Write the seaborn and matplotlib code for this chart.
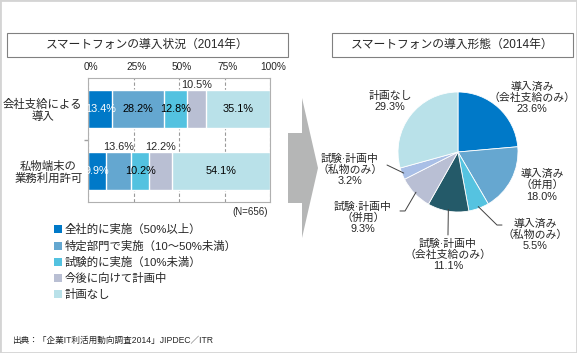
import numpy as np
import pandas as pd
import seaborn as sns
import matplotlib.pyplot as plt
from matplotlib.patches import Rectangle, Polygon, Patch
from matplotlib.transforms import ScaledTranslation

# ---- data ----
bar_cats = ["会社支給による\n導入", "私物端末の\n業務利用許可"]
bar_series = ["全社的に実施（50%以上）", "特定部門で実施（10～50%未満）",
              "試験的に実施（10%未満）", "今後に向けて計画中", "計画なし"]
row_company = [13.4, 28.2, 12.8, 10.5, 35.1]
row_private = [9.9, 13.6, 10.2, 12.2, 54.1]
bar_colors = ["#0079c8", "#64a7d0", "#53c2e0", "#b9bfd3", "#b9e1e9"]

pie_labels = ["導入済み\n（会社支給のみ）", "導入済み\n（併用）", "導入済み\n（私物のみ）",
              "試験·計画中\n（会社支給のみ）", "試験·計画中\n（併用）",
              "試験·計画中\n（私物のみ）", "計画なし"]
pie_values = [23.6, 18.0, 5.5, 11.1, 9.3, 3.2, 29.3]
pie_colors = ["#0079c8", "#66a7d0", "#55c3e0", "#245a69", "#b9bfd4", "#a9bfe6", "#b9e1e9"]

W, H = 577, 353

sns.set_theme(style="white")
plt.rcParams['font.family'] = ['Liberation Sans', 'Noto Sans CJK JP']


def f(px, py):
    return (px / W, 1 - py / H)


fig = plt.figure(figsize=(W / 100, H / 100), dpi=100)

# outer frame
fig.add_artist(Rectangle((0, 0), 1, 1, fill=False, edgecolor="#d4d4d4", lw=2,
                         transform=fig.transFigure))

# title boxes
for (x0, x1, title) in [(7, 288, "スマートフォンの導入状況（2014年）"),
                        (332, 573, "スマートフォンの導入形態（2014年）")]:
    fig.add_artist(Rectangle(f(x0, 57), (x1 - x0) / W, 24 / H, fill=False,
                             edgecolor="#808080", lw=0.8, transform=fig.transFigure))
    fig.text(*f((x0 + x1) / 2, 45), title, ha="center", va="center", fontsize=8.5)

# ---- stacked bar chart ----
ax = fig.add_axes([88 / W, 1 - 202 / H, 182 / W, 124 / H])
data = np.array([row_company, row_private])
cum = np.cumsum(data, axis=1)
for i in range(len(bar_series) - 1, -1, -1):
    df = pd.DataFrame({"cat": bar_cats, "val": cum[:, i]})
    sns.barplot(data=df, x="val", y="cat", orient="h", color=bar_colors[i],
                saturation=1, width=0.613, ax=ax, zorder=2)

ax.set_xlim(0, 100)
ax.set_ylim(1.5, -0.5)
ax.set_xlabel("")
ax.set_ylabel("")
ax.xaxis.tick_top()
ax.set_xticks([0, 25, 50, 75, 100])
ax.set_xticklabels([f"{v}%" for v in [0, 25, 50, 75, 100]], fontsize=7.3)
ax.tick_params(axis="x", length=0, pad=4)
shift = ScaledTranslation(3 / 100, 0, fig.dpi_scale_trans)
for lab in ax.get_xticklabels():
    lab.set_transform(lab.get_transform() + shift)
ax.set_yticks([0, 1])
ax.set_yticklabels(bar_cats, fontsize=8.2, multialignment="center", linespacing=1.1)
ax.tick_params(axis="y", length=0, pad=4)
ax.set_yticks([0.5], minor=True)
ax.tick_params(axis="y", which="minor", length=3, color="#a0a0a0", left=True)
ax.set_axisbelow(True)
ax.xaxis.grid(True, linestyle=(0, (3, 2)), color="#9a9a9a", lw=0.8)
ax.yaxis.grid(False)
for s in ax.spines.values():
    s.set_color("#b0b0b0")
    s.set_linewidth(0.8)

outside = {0: [3], 1: [1, 3]}
for r in range(2):
    left = 0
    for i, v in enumerate(data[r]):
        xc = left + v / 2
        if i in outside[r]:
            ax.text(xc, r - 0.39, f"{v}%", ha="center", va="center", fontsize=7.8)
        else:
            ax.text(xc, r, f"{v}%", ha="center", va="center", fontsize=7.8,
                    color="white" if i == 0 else "black")
        left += v

fig.text(*f(268, 212), "(N=656)", ha="right", va="center", fontsize=7)

handles = [Patch(facecolor=c, edgecolor="none") for c in bar_colors]
fig.legend(handles, bar_series, loc="upper left", bbox_to_anchor=f(54, 224),
           frameon=False, fontsize=8.2, borderpad=0, borderaxespad=0,
           handlelength=0.72, handleheight=0.72, handletextpad=0.2,
           labelspacing=0.45)

# ---- arrow ----
fig.add_artist(Polygon([f(288, 133), f(302, 133), f(302, 98), f(318, 168),
                        f(302, 238), f(302, 203), f(288, 203)],
                       closed=True, facecolor="#b5b6b6", edgecolor="none",
                       transform=fig.transFigure))

# ---- pie chart ----
pax = fig.add_axes([(458 - 60) / W, 1 - (152 + 60) / H, 120 / W, 120 / H])
pax.pie(pie_values, colors=pie_colors, startangle=90, counterclock=False,
        wedgeprops=dict(edgecolor="white", linewidth=0.6))
pax.set_xlim(-1, 1)
pax.set_ylim(-1, 1)
pax.set_aspect("auto")

label_pos = [(1.233, 0.9), (1.4, -0.55), (1.283, -1.383), (-0.167, -1.717),
             (-1.583, -1.1), (-1.8, -0.3), (-1.133, 0.84)]
for lab, v, (lx, ly) in zip(pie_labels, pie_values, label_pos):
    pax.text(lx, ly, f"{lab}\n{v:.1f}%", ha="center", va="center", fontsize=7.8,
             linespacing=1.15, clip_on=False)

# leader lines
cums = np.cumsum([0] + pie_values[:-1])
def mid_pt(i, r):
    ang = np.deg2rad(90 - (cums[i] + pie_values[i] / 2) * 3.6)
    return r * np.cos(ang), r * np.sin(ang)

leaders = {2: [(0.733, -1.217), (0.65, -1.217)],
           3: [(-0.167, -1.383)],
           4: [(-0.967, -0.983), (-0.883, -0.983)],
           5: [(-1.183, -0.217)]}
for i, pts in leaders.items():
    wx, wy = mid_pt(i, 0.97)
    xs = [p[0] for p in pts] + [wx]
    ys = [p[1] for p in pts] + [wy]
    pax.plot(xs, ys, color="#404040", lw=0.7, clip_on=False)

fig.text(*f(12, 340), "出典：「企業IT利活用動向調査2014」JIPDEC／ITR", ha="left",
         va="center", fontsize=6.2)

fig.savefig("out.png", dpi=100)
